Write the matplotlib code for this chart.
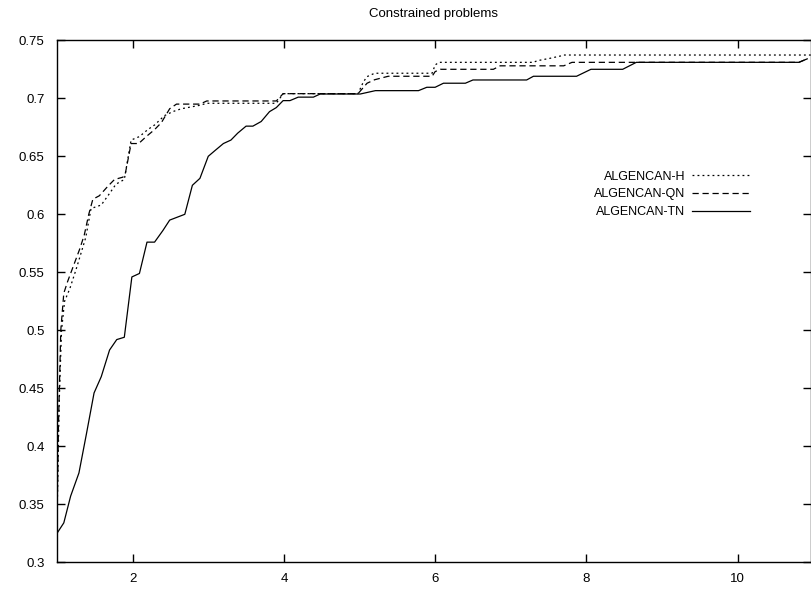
import matplotlib
matplotlib.use("Agg")
import matplotlib.pyplot as plt

plt.rcParams['font.family'] = ['Liberation Sans', 'DejaVu Sans']

title = "Constrained problems"
labels = ["ALGENCAN-H", "ALGENCAN-QN", "ALGENCAN-TN"]

h_x = [1.0, 1.03, 1.06, 1.10, 1.17, 1.25, 1.32, 1.38, 1.45, 1.585, 1.695, 1.78, 1.89, 1.98,
       2.09, 2.20, 2.29, 2.42, 2.53, 2.645, 2.89, 2.98, 3.90, 3.99, 4.98, 5.05, 5.10, 5.20,
       5.96, 6.00, 6.05, 7.30, 7.35, 7.52, 7.66, 7.70, 10.97]
h_y = [0.335, 0.44, 0.50, 0.525, 0.536, 0.552, 0.567, 0.580, 0.605, 0.608, 0.618, 0.626, 0.630, 0.664,
       0.667, 0.673, 0.677, 0.685, 0.6885, 0.691, 0.694, 0.6957, 0.6957, 0.704, 0.704, 0.714, 0.7187, 0.7216,
       0.7216, 0.7287, 0.731, 0.731, 0.7324, 0.7345, 0.7365, 0.7373, 0.7373]

qn_x = [1.0, 1.02, 1.05, 1.09, 1.14, 1.22, 1.30, 1.36, 1.42, 1.474, 1.56, 1.67, 1.76, 1.87, 1.90,
        1.98, 2.08, 2.18, 2.29, 2.38, 2.49, 2.58, 2.89, 2.98, 3.90, 3.99, 4.98, 5.10, 5.20, 5.38,
        5.96, 6.00, 6.07, 6.77, 6.86, 7.70, 7.81, 10.81, 10.92]
qn_y = [0.335, 0.42, 0.50, 0.532, 0.542, 0.556, 0.570, 0.582, 0.600, 0.613, 0.616, 0.624, 0.630, 0.632, 0.634,
        0.661, 0.661, 0.667, 0.673, 0.679, 0.691, 0.695, 0.695, 0.6977, 0.6977, 0.704, 0.704, 0.713, 0.716, 0.719,
        0.719, 0.723, 0.725, 0.725, 0.728, 0.728, 0.731, 0.731, 0.734]

tn_x = [1.0, 1.09, 1.18, 1.29, 1.39, 1.49, 1.585, 1.695, 1.79, 1.89, 1.99, 2.09, 2.19, 2.29, 2.40,
        2.49, 2.69, 2.79, 2.89, 3.00, 3.09, 3.20, 3.30, 3.39, 3.50, 3.59, 3.70, 3.81, 3.90, 3.99,
        4.08, 4.19, 4.39, 4.48, 5.01, 5.21, 5.78, 5.89, 6.00, 6.11, 6.40, 6.50, 7.21, 7.30, 7.87,
        8.06, 8.48, 8.66, 10.81, 10.92]
tn_y = [0.325, 0.334, 0.357, 0.377, 0.411, 0.446, 0.460, 0.483, 0.492, 0.494, 0.546, 0.549, 0.576, 0.576, 0.586,
        0.595, 0.600, 0.625, 0.631, 0.650, 0.655, 0.661, 0.664, 0.670, 0.676, 0.676, 0.680, 0.6885, 0.692, 0.698,
        0.698, 0.701, 0.701, 0.7037, 0.7037, 0.7066, 0.7066, 0.7095, 0.7095, 0.713, 0.713, 0.7158, 0.7158, 0.719, 0.719,
        0.725, 0.725, 0.731, 0.731, 0.734]

x_ticks = [2, 4, 6, 8, 10]
y_ticks = [0.3, 0.35, 0.4, 0.45, 0.5, 0.55, 0.6, 0.65, 0.7, 0.75]
y_tick_labels = ["0.3", "0.35", "0.4", "0.45", "0.5", "0.55", "0.6", "0.65", "0.7", "0.75"]

fig = plt.figure(figsize=(8.12, 5.93), dpi=100)
ax = fig.add_axes([57 / 812, 1 - 562.3 / 593, (811 - 57) / 812, (562.3 - 40.3) / 593])

ax.plot(h_x, h_y, color='black', lw=0.9, linestyle=(0, (1.5, 2.5)), label=labels[0])
ax.plot(qn_x, qn_y, color='black', lw=0.9, linestyle=(0, (5, 3)), label=labels[1])
ax.plot(tn_x, tn_y, color='black', lw=0.9, linestyle='-', label=labels[2])

ax.set_xlim(1, 10.97)
ax.set_ylim(0.3, 0.75)
ax.set_xticks(x_ticks)
ax.set_xticklabels([str(t) for t in x_ticks])
ax.set_yticks(y_ticks)
ax.set_yticklabels(y_tick_labels)
ax.tick_params(axis='x', direction='in', length=6, width=1, top=True, labelsize=9.5, pad=8)
ax.tick_params(axis='y', direction='in', length=6, width=1, right=True, labelsize=9.5, pad=9)
for s in ax.spines.values():
    s.set_linewidth(1.0)

ax.set_title(title, fontsize=9.5, pad=16.5)

leg = ax.legend(loc='upper right', bbox_to_anchor=(0.919, 0.75), frameon=False,
                markerfirst=False, fontsize=9, handlelength=4.6, handletextpad=0.55,
                labelspacing=0.45, borderpad=0, borderaxespad=0)
for t in leg.get_texts():
    t.set_ha('right')

fig.savefig("out.png", dpi=100)
